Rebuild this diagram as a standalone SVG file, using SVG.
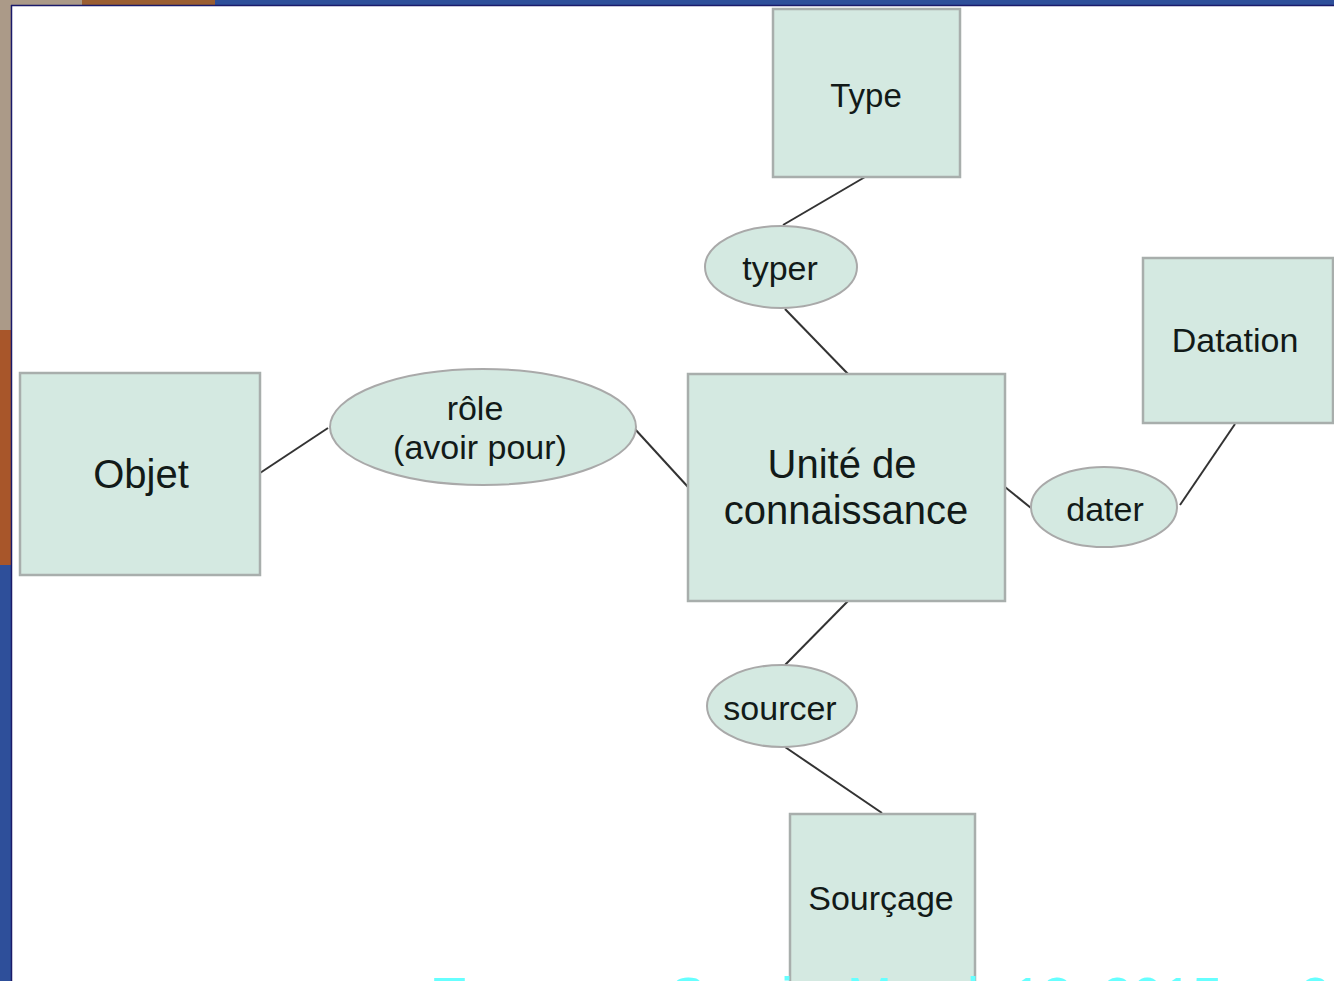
<svg xmlns="http://www.w3.org/2000/svg" width="1334" height="981" viewBox="0 0 1334 981">
<style>
  .box { fill: #d4e9e1; stroke: #a8aeac; stroke-width: 2.5; }
  .rel { fill: #d4e9e1; stroke: #a9a9a9; stroke-width: 2; }
  .lbl { font-family: "Liberation Sans", Arial, sans-serif; fill: #121a18; text-anchor: middle; }
  .link { stroke: #333; stroke-width: 2; fill: none; }
  .foot { font-family: "Liberation Sans", Arial, sans-serif; fill: #66ffff; font-size: 54px; }
</style>
<!-- background frame -->
<rect x="0" y="0" width="1334" height="981" fill="#ffffff"/>
<rect x="0" y="0" width="11" height="330" fill="#ab9a88"/>
<rect x="0" y="330" width="11" height="235" fill="#a8562a"/>
<rect x="0" y="565" width="11" height="416" fill="#2e4f9a"/>
<rect x="0" y="0" width="82" height="5" fill="#ab9a88"/>
<rect x="82" y="0" width="133" height="5" fill="#9a5e32"/>
<rect x="215" y="0" width="1119" height="5" fill="#2e4f9a"/>
<line x1="11.5" y1="5" x2="11.5" y2="981" stroke="#1a1a6a" stroke-width="1.5"/>
<line x1="11" y1="5.5" x2="1334" y2="5.5" stroke="#1a1a6a" stroke-width="1.5"/>

<g id="connectors">
  <line class="link" x1="865" y1="177" x2="783" y2="225"/>
  <line class="link" x1="785" y1="309" x2="848" y2="374"/>
  <line class="link" x1="260" y1="473" x2="328" y2="428"/>
  <line class="link" x1="634" y1="428" x2="688" y2="487"/>
  <line class="link" x1="1005" y1="487" x2="1031" y2="508"/>
  <line class="link" x1="1180" y1="505" x2="1235" y2="424"/>
  <line class="link" x1="848" y1="601" x2="785" y2="665"/>
  <line class="link" x1="785" y1="747" x2="882" y2="813"/>
</g>

<g id="type">
  <rect class="box" x="773" y="9" width="187" height="168"/>
  <text class="lbl" x="866" y="107" font-size="33">Type</text>
</g>
<g id="typer">
  <ellipse class="rel" cx="781" cy="267" rx="76" ry="41"/>
  <text class="lbl" x="780" y="280" font-size="34">typer</text>
</g>
<g id="unite">
  <rect class="box" x="688" y="374" width="317" height="227"/>
  <text class="lbl" x="842" y="478" font-size="40">Unité de</text>
  <text class="lbl" x="846" y="524" font-size="40">connaissance</text>
</g>
<g id="objet">
  <rect class="box" x="20" y="373" width="240" height="202"/>
  <text class="lbl" x="141" y="488" font-size="40">Objet</text>
</g>
<g id="role">
  <ellipse class="rel" cx="483" cy="427" rx="153" ry="58"/>
  <text class="lbl" x="475" y="420" font-size="34">rôle</text>
  <text class="lbl" x="480" y="459" font-size="34">(avoir pour)</text>
</g>
<g id="dater">
  <ellipse class="rel" cx="1104" cy="507" rx="73" ry="40"/>
  <text class="lbl" x="1105" y="521" font-size="34">dater</text>
</g>
<g id="datation">
  <rect class="box" x="1143" y="258" width="190" height="165"/>
  <text class="lbl" x="1235" y="352" font-size="34">Datation</text>
</g>
<g id="sourcer">
  <ellipse class="rel" cx="782" cy="706" rx="75" ry="41"/>
  <text class="lbl" x="780" y="720" font-size="34">sourcer</text>
</g>
<g id="sourcage">
  <rect class="box" x="790" y="814" width="185" height="180"/>
  <text class="lbl" x="881" y="910" font-size="34">Sourçage</text>
</g>

<g id="footer">
  <text class="foot" x="433" y="1015">Tours</text>
  <text class="foot" x="670" y="1015">Sami</text>
  <text class="foot" x="847" y="1015">March 13, 2015</text>
  <text class="foot" x="1300" y="1015">2</text>
</g>
</svg>
